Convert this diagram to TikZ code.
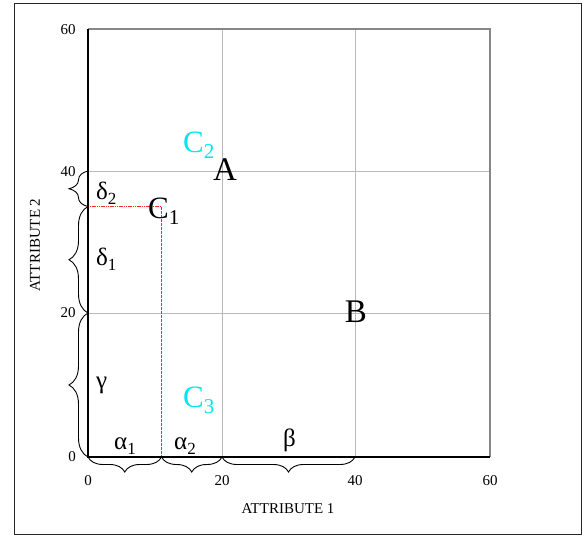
\documentclass[tikz,border=0pt]{standalone}
\usepackage{fontspec}
\setmainfont{Liberation Serif}
\usetikzlibrary{decorations.pathreplacing}
\definecolor{cyanc}{RGB}{0,230,240}
\definecolor{gridc}{RGB}{185,185,185}
\definecolor{framec}{RGB}{135,135,135}
\definecolor{guidec}{RGB}{255,40,40}
\newcommand\mysub[1]{\raisebox{-0.22em}{\scalebox{0.68}{#1}}}
\tikzset{
  gridline/.style={draw=gridc, line width=0.9pt},
  axisline/.style={draw=black, line width=1.2pt},
  borderline/.style={draw=framec, line width=1.8pt},
  redguide/.style={draw=guidec, dash pattern=on 1.2pt off 0.6pt, line width=1pt},
  redguidev/.style={draw=guidec, dash pattern=on 3pt off 1pt, line width=1.1pt},
  bracev/.style={decorate, decoration={brace, amplitude=19pt, aspect=0.5}, line width=0.9pt},
  braceh/.style={decorate, decoration={brace, amplitude=15pt, aspect=0.5}, line width=0.9pt},
  ticklbl/.style={font=\fontsize{15}{15}\selectfont, inner sep=0pt},
  biglbl/.style={font=\fontsize{33}{33}\selectfont, inner sep=0pt},
  clbl/.style={font=\fontsize{31}{31}\selectfont, inner sep=0pt},
  greeklbl/.style={font=\fontsize{25}{25}\selectfont, inner sep=0pt},
}
\begin{document}
\begin{tikzpicture}[x=1pt,y=-1pt]
\useasboundingbox (0,0) rectangle (584,536);
% outer frame
\draw[line width=1pt, draw=black!85] (14,3) rectangle (581,534);
% coordinates
\coordinate (o) at (88,457);
\coordinate (x11) at (161.5,457);
\coordinate (x20) at (222,457);
\coordinate (x40) at (355,457);
\coordinate (x60) at (490,457);
\coordinate (y20) at (88,313);
\coordinate (y35) at (88,206.5);
\coordinate (y40) at (88,171);
\coordinate (y60) at (88,29);
\coordinate (c1) at (161.5,206.5);
% grid
\draw[gridline] (222,29) -- (x20);
\draw[gridline] (355,29) -- (x40);
\draw[gridline] (y20) -- (490,313);
\draw[gridline] (y40) -- (490,171);
% border
\draw[borderline] (y60) -- (490,29) -- (x60);
% red guides
\draw[redguide] (y35) -- (c1);
\draw[redguidev] (c1) -- (x11);
% axes
\draw[axisline] (y60) -- (o) -- (x60);
% braces
\draw[braceh] (x11) -- (o);
\draw[braceh] (x20) -- (x11);
\draw[braceh] (x40) -- (x20);
\draw[bracev] (o) -- (y20);
\draw[bracev] (y20) -- (y35);
\draw[bracev] (y35) -- (y40);
% tick labels
\node[ticklbl] (t60y) at (68,30) {60};
\node[ticklbl] (t40y) at (68,172) {40};
\node[ticklbl] (t20y) at (68,313) {20};
\node[ticklbl] (t0y) at (72,457) {0};
\node[ticklbl] (t0x) at (88,481) {0};
\node[ticklbl] (t20x) at (222,481) {20};
\node[ticklbl] (t40x) at (355,481) {40};
\node[ticklbl] (t60x) at (490,481) {60};
\node[ticklbl] (xlab) at (288,509) {ATTRIBUTE 1};
\node[ticklbl, rotate=90] (ylab) at (35,245) {ATTRIBUTE 2};
% point labels
\node[biglbl] (A) at (225,170) {A};
\node[biglbl] (B) at (356,312) {B};
\node[clbl, anchor=base west] (C1) at (148,218) {C\mysub{1}};
\node[clbl, anchor=base west, text=cyanc] (C2) at (183,152) {C\mysub{2}};
\node[clbl, anchor=base west, text=cyanc] (C3) at (183,407) {C\mysub{3}};
% greek labels
\node[greeklbl, anchor=base west] (d2) at (96,199) {δ\mysub{2}};
\node[greeklbl, anchor=base west] (d1) at (96,265) {δ\mysub{1}};
\node[greeklbl, anchor=base west] (g) at (96,388) {γ};
\node[greeklbl, anchor=base west] (a1) at (114,449) {α\mysub{1}};
\node[greeklbl, anchor=base west] (a2) at (174,449) {α\mysub{2}};
\node[greeklbl, anchor=base west] (b) at (283,446) {β};
\end{tikzpicture}
\end{document}
